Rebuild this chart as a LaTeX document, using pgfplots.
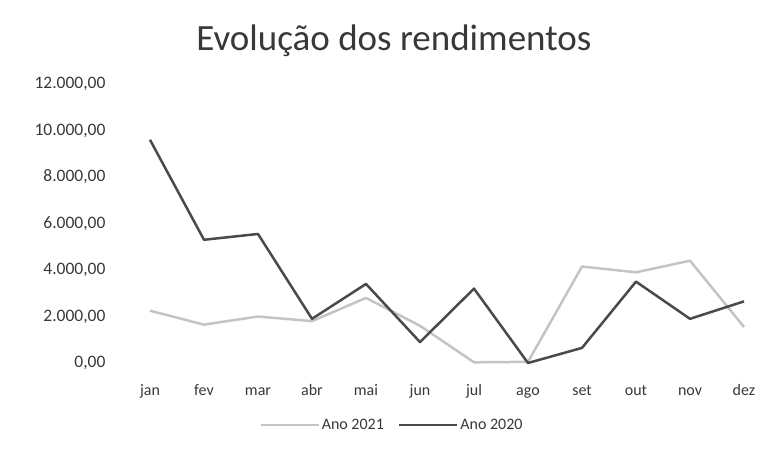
\documentclass[border=0pt]{standalone}
\usepackage{pgfplots}
\pgfplotsset{compat=1.18}
\usepackage{fontspec}
\setmainfont{Carlito}
\definecolor{txt}{HTML}{383838}
\definecolor{dark}{HTML}{4A4A4A}
\definecolor{light}{HTML}{C4C4C4}
\begin{document}
\begin{tikzpicture}[x=1pt,y=1pt]
\useasboundingbox (-123,-85) rectangle (648,363);
\begin{axis}[
  at={(0,0)}, anchor=south west,
  scale only axis, width=648pt, height=279pt,
  xmin=-0.5, xmax=11.5, ymin=0, ymax=12000,
  axis line style={draw=none}, tick style={draw=none},
  xtick={0,...,11},
  xticklabels={jan,fev,mar,abr,mai,jun,jul,ago,set,out,nov,dez},
  ytick={0,2000,...,12000},
  scaled y ticks=false,
  /pgf/number format/fixed,
  /pgf/number format/fixed zerofill,
  /pgf/number format/precision=2,
  /pgf/number format/use comma,
  /pgf/number format/1000 sep={.},
  /pgf/number format/assume math mode=true,
  ticklabel style={text=txt},
  yticklabel style={font=\fontsize{17.5}{20}\selectfont, xshift=-14pt},
  xticklabel style={font=\fontsize{16}{18}\selectfont, anchor=base, yshift=-32pt},
  clip=false,
  legend style={at={(0.415,-0.222)}, anchor=center, draw=none, fill=none, legend columns=2, font=\fontsize{16}{18}\selectfont, text=txt, /tikz/every even column/.append style={column sep=12pt}},
  legend cell align=left,
  legend image code/.code={\draw[#1] (0pt,0pt) -- (58pt,0pt);},
  title={Evolução dos rendimentos},
  title style={font=\fontsize{37}{40}\selectfont, text=txt, at={(0.418,1)}, anchor=center, yshift=37pt},
]
\addplot[light, line width=2.5pt, line join=round] coordinates {
(0,2250) (1,1650) (2,2000) (3,1800) (4,2800) (5,1600) (6,30) (7,50) (8,4150) (9,3900) (10,4400) (11,1550)};
\addlegendentry{Ano 2021}
\addplot[dark, line width=2.5pt, line join=round] coordinates {
(0,9600) (1,5300) (2,5550) (3,1900) (4,3400) (5,900) (6,3200) (7,0) (8,650) (9,3500) (10,1900) (11,2650)};
\addlegendentry{Ano 2020}
\end{axis}
\end{tikzpicture}
\end{document}
